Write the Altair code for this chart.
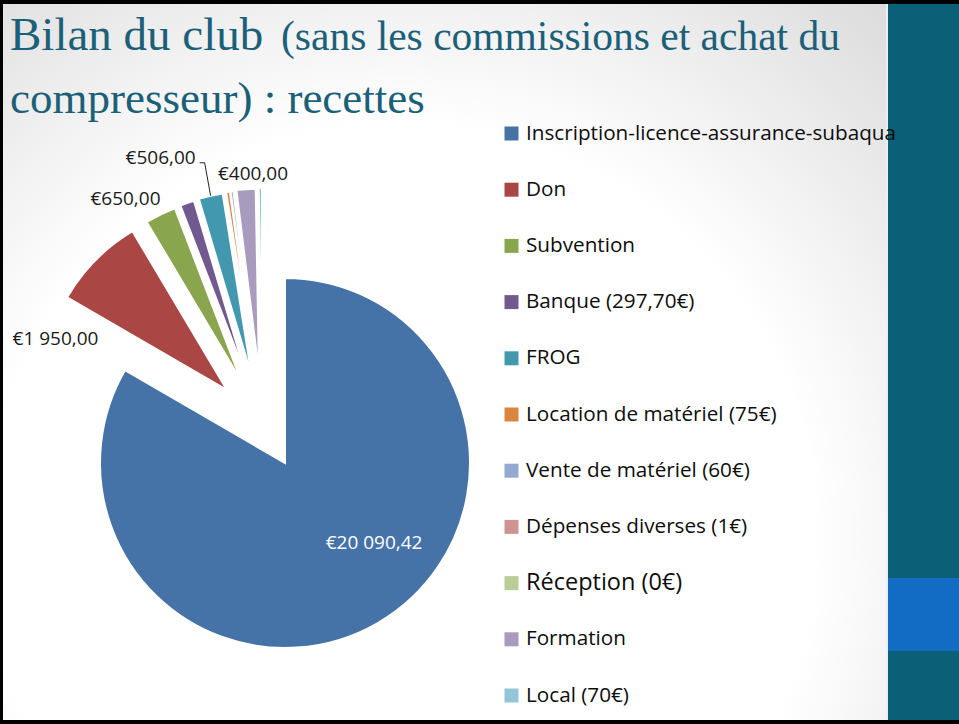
import math
import altair as alt
import pandas as pd

# ---------------- data ----------------
categories = [
    "Inscription-licence-assurance-subaqua",
    "Don",
    "Subvention",
    "Banque (297,70€)",
    "FROG",
    "Location de matériel (75€)",
    "Vente de matériel (60€)",
    "Dépenses diverses (1€)",
    "Réception (0€)",
    "Formation",
    "Local (70€)",
]
values = [20090.42, 1950.00, 650.00, 297.70, 506.00, 75.00, 60.00, 1.00, 0.00, 400.00, 70.00]
value_labels = ["€20 090,42", "€1 950,00", "€650,00", "", "€506,00", "", "", "", "", "€400,00", ""]
colors = ["#4572A7", "#AA4643", "#89A54E", "#71588F", "#4198AF", "#DB843D",
          "#93A9CF", "#D19392", "#B9CD96", "#A99BBD", "#92C5D6"]

title_big = "Bilan du club"
title_small_1 = "(sans les commissions et achat du"
title_small_2 = "compresseur) : recettes"

# ---------------- layout / style ----------------
W, H = 959, 724
CX, CY, R = 285, 463, 185          # pie centre and radius (px)
EXPLODE = 93                        # explosion distance for the small slices
FAN_ANCHOR, FAN = 329.5, 0.46       # how the exploded slices fan out
label_nudge = {                     # label placement tweaks (px)
    "Inscription-licence-assurance-subaqua": (42, -2),
    "Don": (-40, 79),
    "Subvention": (-35, -16),
    "FROG": (-50, -38),
    "Formation": (7, -15),
}
leader_for = "FROG"
TEAL_DARK = "#0B5F77"
TITLE_COL = "#1B6079"
FONT = "Open Sans"
SERIF = "Liberation Serif"

# ---------------- geometry table built from the data ----------------
total = sum(values)
rows = []
cum = 0.0
for i, (cat, v, lab) in enumerate(zip(categories, values, value_labels)):
    start, end = cum, cum + v
    cum = end
    a0 = start / total * 360.0
    a1 = end / total * 360.0
    mid = (a0 + a1) / 2.0
    if i == 0:
        cx, cy = CX, CY
    else:
        d = mid - FAN * (mid - FAN_ANCHOR)
        cx = CX + EXPLODE * math.sin(math.radians(d))
        cy = CY - EXPLODE * math.cos(math.radians(d))
    ox = cx + R * math.sin(math.radians(mid))
    oy = cy - R * math.cos(math.radians(mid))
    if i == 0:
        bx = cx + 0.51 * R * math.sin(math.radians(mid))
        by = cy - 0.51 * R * math.cos(math.radians(mid))
    else:
        bx, by = ox, oy
    nx, ny = label_nudge.get(cat, (0, 0))
    rows.append(dict(i=i, cat=cat, value=v, start=start, end=end, cx=cx, cy=cy,
                     ox=ox, oy=oy, lx=bx + nx, ly=by + ny, label=lab))
df = pd.DataFrame(rows)

lead = df[df.cat == leader_for].iloc[0]
leader_df = pd.DataFrame({
    "k": [0, 1, 2],
    "x": [lead.ox, lead.lx + 44, lead.lx + 39],
    "y": [lead.oy, lead.ly + 5, lead.ly + 5],
})

one = pd.DataFrame({"k": [0]})
color_scale = alt.Scale(domain=categories, range=colors)

# ---------------- background ----------------
bg_fill = alt.RadialGradient(
    gradient="radial",
    stops=[alt.GradientStop(color="#ffffff", offset=0),
           alt.GradientStop(color="#ffffff", offset=0.55),
           alt.GradientStop(color="#d8d8d8", offset=1)],
    x1=0.45, y1=0.7, x2=0.45, y2=0.7, r1=0, r2=0.85,
)
bg = alt.Chart(one).mark_rect(fill=bg_fill).encode(
    x=alt.value(3), x2=alt.value(888), y=alt.value(4), y2=alt.value(720))
bar = alt.Chart(one).mark_rect(fill=TEAL_DARK).encode(
    x=alt.value(888), x2=alt.value(W), y=alt.value(4), y2=alt.value(720))
bar_edge = alt.Chart(one).mark_rect(fill="#e8f0f2").encode(
    x=alt.value(886), x2=alt.value(888), y=alt.value(4), y2=alt.value(720))
patch = alt.Chart(one).mark_rect(fill="#136CC4").encode(
    x=alt.value(888), x2=alt.value(W), y=alt.value(578), y2=alt.value(651))

# ---------------- pie ----------------
arcs = alt.Chart(df).transform_filter(alt.datum.value > 0).mark_arc(
    radius=R, stroke="white", strokeWidth=2
).encode(
    theta=alt.Theta("start:Q", scale=alt.Scale(domain=[0, total], range=[0, 2 * math.pi])),
    theta2=alt.Theta2("end:Q"),
    x=alt.X("cx:Q", scale=None),
    y=alt.Y("cy:Q", scale=None),
    color=alt.Color("cat:N", scale=color_scale, legend=None),
)

leader = alt.Chart(leader_df).mark_line(color="#222222", strokeWidth=1).encode(
    x=alt.X("x:Q", scale=None), y=alt.Y("y:Q", scale=None), order="k:Q")

labels = alt.Chart(df).transform_filter(alt.datum.label != "").mark_text(
    font=FONT, fontSize=19, align="center", baseline="middle"
).encode(
    x=alt.X("lx:Q", scale=None),
    y=alt.Y("ly:Q", scale=None),
    text="label:N",
    color=alt.condition(alt.datum.i == 0, alt.value("white"), alt.value("#1a1a1a")),
)

# ---------------- legend ----------------
leg_y = alt.Y("cat:N", scale=alt.Scale(type="point", domain=categories,
                                        range=[133.5, 695.5], padding=0), axis=None)
leg_sq = alt.Chart(df).mark_square(size=196, opacity=1).encode(
    x=alt.value(511.5), y=leg_y,
    color=alt.Color("cat:N", scale=color_scale, legend=None))
leg_tx = alt.Chart(df).mark_text(font=FONT, align="left", baseline="middle",
                                 color="#0d0d0d").encode(
    x=alt.value(526), y=leg_y, text="cat:N",
    size=alt.condition(alt.datum.cat == "Réception (0€)", alt.value(23.5), alt.value(20.7)))

# ---------------- title ----------------
t1 = alt.Chart(one).mark_text(text=title_big, font=SERIF, fontSize=47, color=TITLE_COL,
                              align="left", baseline="alphabetic").encode(
    x=alt.value(10), y=alt.value(50))
t2 = alt.Chart(one).mark_text(text=title_small_1, font=SERIF, fontSize=41.5, color=TITLE_COL,
                              align="left", baseline="alphabetic").encode(
    x=alt.value(281), y=alt.value(50))
t3 = alt.Chart(one).mark_text(text=title_small_2, font=SERIF, fontSize=45, color=TITLE_COL,
                              align="left", baseline="alphabetic").encode(
    x=alt.value(10), y=alt.value(113))

chart = alt.layer(
    bg, bar, bar_edge, patch, arcs, leader, labels, leg_sq, leg_tx, t1, t2, t3
).resolve_scale(
    x="independent", y="independent"
).properties(
    width=W, height=H, padding=0, autosize="none", background="black"
).configure_view(stroke=None)

chart.save("out.html", embed_options={"renderer": "svg", "actions": False})
